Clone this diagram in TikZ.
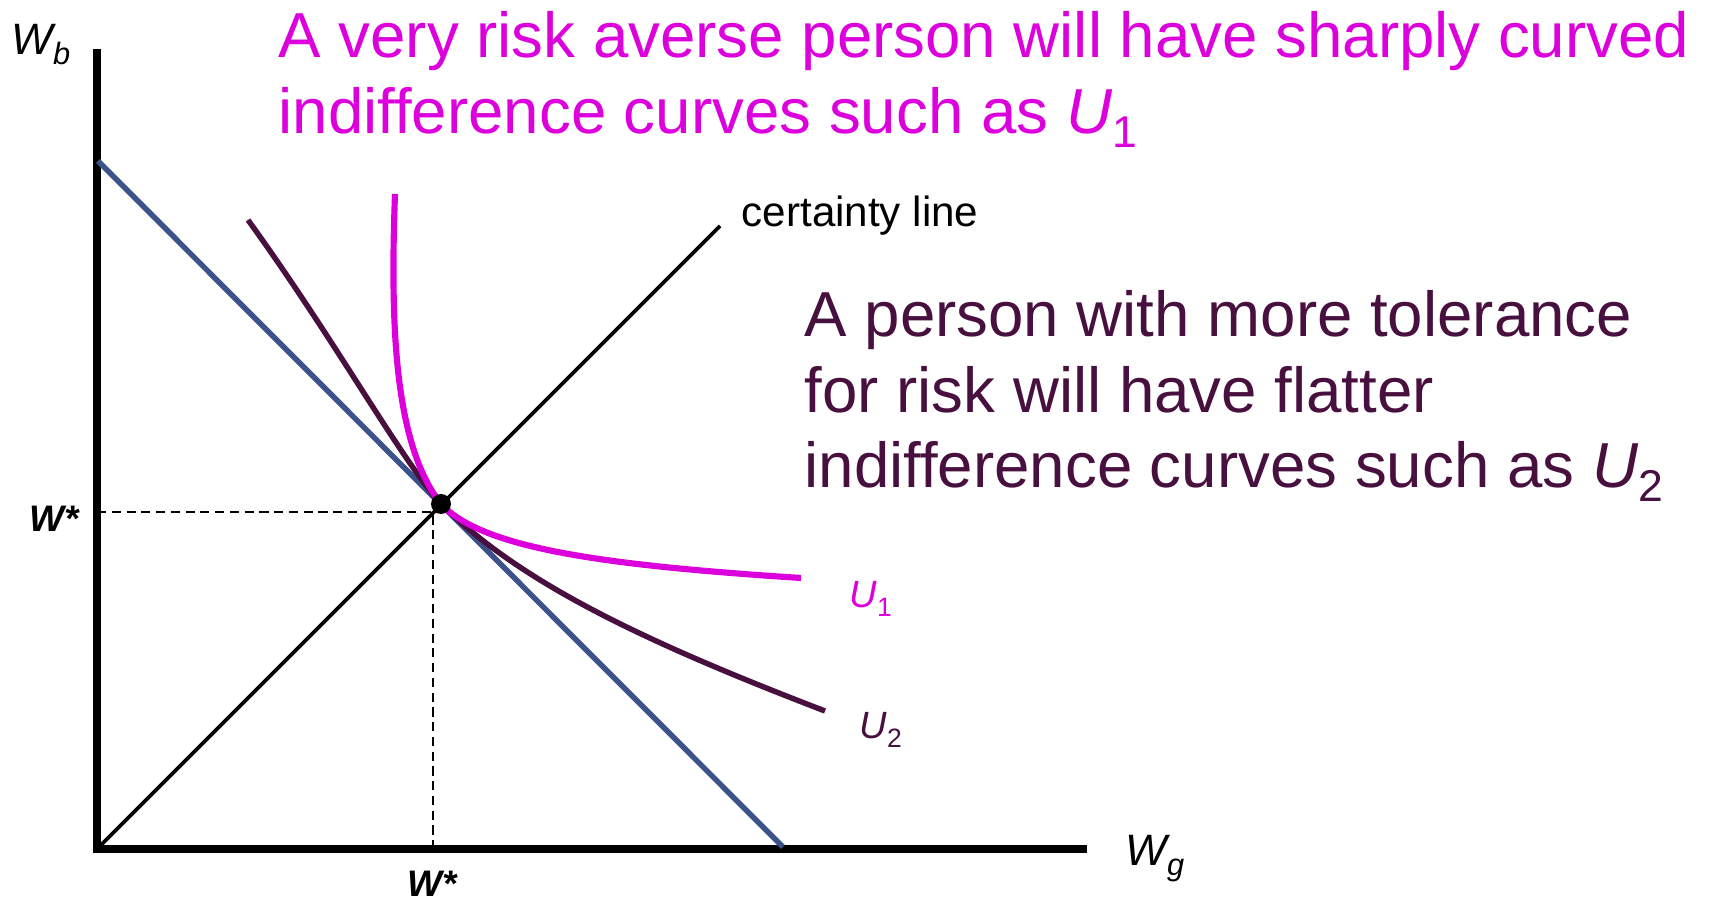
\documentclass[tikz,border=0pt]{standalone}
\usepackage{fontspec}
\setmainfont{Liberation Sans}
\usetikzlibrary{positioning}
\definecolor{riskmag}{RGB}{220,0,220}
\definecolor{tolpurp}{RGB}{72,16,62}
\definecolor{budgetblue}{RGB}{60,82,138}
\newcommand{\lowsub}[1]{\raisebox{-0.22em}{\scalebox{0.7}{#1}}}

\begin{document}
\begin{tikzpicture}[x=0.1mm,y=-0.1mm,every node/.style={inner sep=0pt},
  bigtext/.style={font=\fontsize{18.1}{21.5}\selectfont,align=left,anchor=north west},
  axislabel/.style={font=\fontsize{12.5}{14}\selectfont,anchor=base west},
  ulabel/.style={font=\fontsize{10.8}{13}\selectfont,anchor=base west},
  wstar/.style={font=\fontsize{10.5}{12}\selectfont\bfseries\itshape}]
\useasboundingbox (0,0) rectangle (1709,901);
\coordinate (o) at (97,849); \coordinate (opt) at (441,504); \coordinate (wst) at (433,512);
\draw[line width=2.1pt] (97,49)--(o)--(1087,849);
\draw[budgetblue,line width=1.55pt] (98,161)--(783,847);
\draw[line width=1.05pt] (o)--(720,226);
\draw[tolpurp,line width=1.55pt] (248,220).. controls (335,340) and (400,458)..(opt).. controls (520,582) and (640,640)..(825,711);
\draw[riskmag,line width=1.75pt] (395,194).. controls (390,330) and (395,445)..(opt).. controls (482,548) and (600,565)..(801,578);
\draw[line width=0.65pt,dash pattern=on 2.6pt off 1.6pt] (97,512)--(wst)--(433,849);
\fill (opt) circle (10);
\node[axislabel] (wb) at (11,55){\itshape W\lowsub{b}};
\node[axislabel] (wg) at (1125,866){\itshape W\lowsub{g}};
\node[wstar,anchor=base west] (wsy) at (29,532){W*};
\node[wstar,anchor=base west] (wsx) at (407,897){W*};
\node[axislabel,font=\fontsize{12}{14}\selectfont] (cert) at (741,227){certainty line};
\node[ulabel,riskmag] (u1) at (849,608){\itshape U\lowsub{\upshape 1}};
\node[ulabel,tolpurp] (u2) at (859,739){\itshape U\lowsub{\upshape 2}};
\node[bigtext,riskmag] (averse) at (278,11){A very risk averse person will have sharply curved\\indifference curves such as \textit{U}\lowsub{1}};
\node[bigtext,tolpurp] (tolerant) at (804,290){A person with more tolerance\\for risk will have flatter\\indifference curves such as \textit{U}\lowsub{2}};
\end{tikzpicture}
\end{document}
